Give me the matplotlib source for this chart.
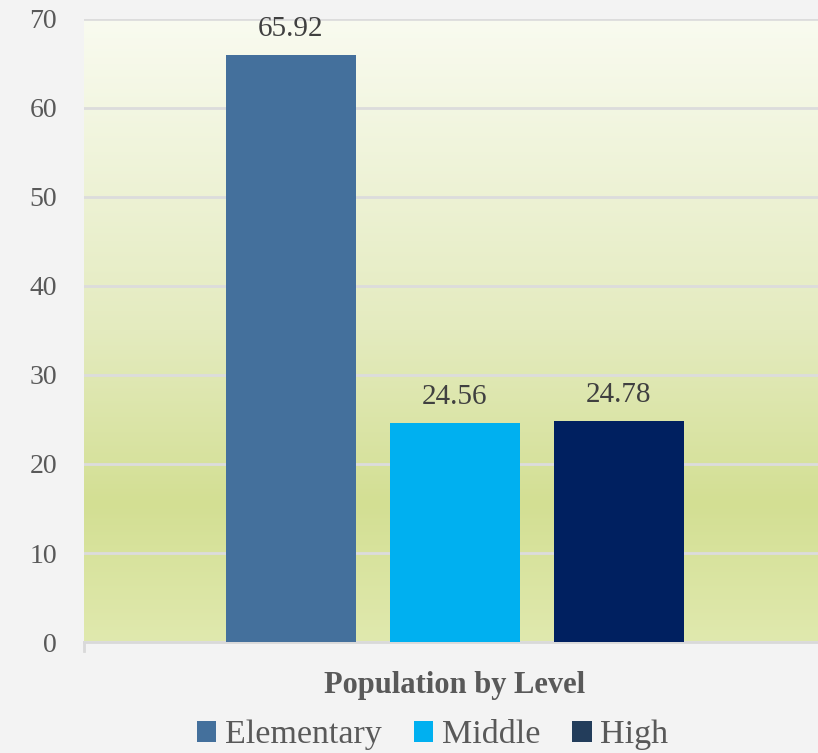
import numpy as np
import matplotlib
matplotlib.use("Agg")
import matplotlib.pyplot as plt
from matplotlib.colors import LinearSegmentedColormap
from matplotlib.patches import Patch

category = "Population by Level"
series = ["Elementary", "Middle", "High"]
values = [65.92, 24.56, 24.78]
bar_colors = ["#44709c", "#00b0f0", "#002060"]
legend_colors = ["#44709c", "#00b0f0", "#233d5b"]

plt.rcParams['font.family'] = ['Liberation Serif', 'DejaVu Serif']
text_col = "#595959"

fig = plt.figure(figsize=(8.18, 7.53), dpi=100)
fig.patch.set_facecolor("#f3f3f3")
ax = fig.add_axes([0.1027, 0.1474, 0.907, 0.8274])

# gradient plot area
grad = LinearSegmentedColormap.from_list("g", [
    (0.0, "#e0e9ae"), (0.22, "#d3df93"), (0.5, "#e4ebbf"), (1.0, "#f9fbf0")])
ax.imshow(np.linspace(0, 1, 256).reshape(-1, 1), cmap=grad, aspect="auto",
          extent=[-2.3, 2.3, 0, 70], origin="lower", zorder=0)

x = np.arange(len(series)) - 1
width = 0.79
bars = ax.bar(x, values, width=width, color=bar_colors, zorder=3)
for b, v in zip(bars, values):
    ax.text(b.get_x() + b.get_width() / 2, v + 3.0, f"{v:.2f}",
            ha="center", va="center", fontsize=21, color="#404040", zorder=4)

ax.set_xlim(-2.262, 2.262)
ax.set_ylim(0, 70)
ax.set_yticks(range(0, 71, 10))
ax.yaxis.grid(True, color="#dcdcdc", linewidth=2, zorder=1)
ax.set_axisbelow(False)
ax.tick_params(axis="y", length=0, labelsize=20, labelcolor=text_col, pad=19.5)
ax.set_xticks([0])
ax.set_xticklabels([category], fontsize=22, fontweight="bold", color=text_col)
ax.tick_params(axis="x", length=0, pad=21)
for s in ["top", "right", "left"]:
    ax.spines[s].set_visible(False)
ax.spines["bottom"].set_color("#d9d9d9")
ax.spines["bottom"].set_linewidth(2)
ax.plot([-2.262, -2.262], [0, -1], color="#d9d9d9", lw=2, clip_on=False)

handles = [Patch(facecolor=c, label=s) for c, s in zip(legend_colors, series)]
fig.legend(handles=handles, loc="center", bbox_to_anchor=(0.529, 0.024),
           ncol=3, frameon=False, fontsize=24.5, labelcolor=text_col,
           handlelength=0.56, handleheight=0.56, handletextpad=0.26,
           columnspacing=0.95)

fig.savefig("out.png", dpi=100, facecolor=fig.get_facecolor())
